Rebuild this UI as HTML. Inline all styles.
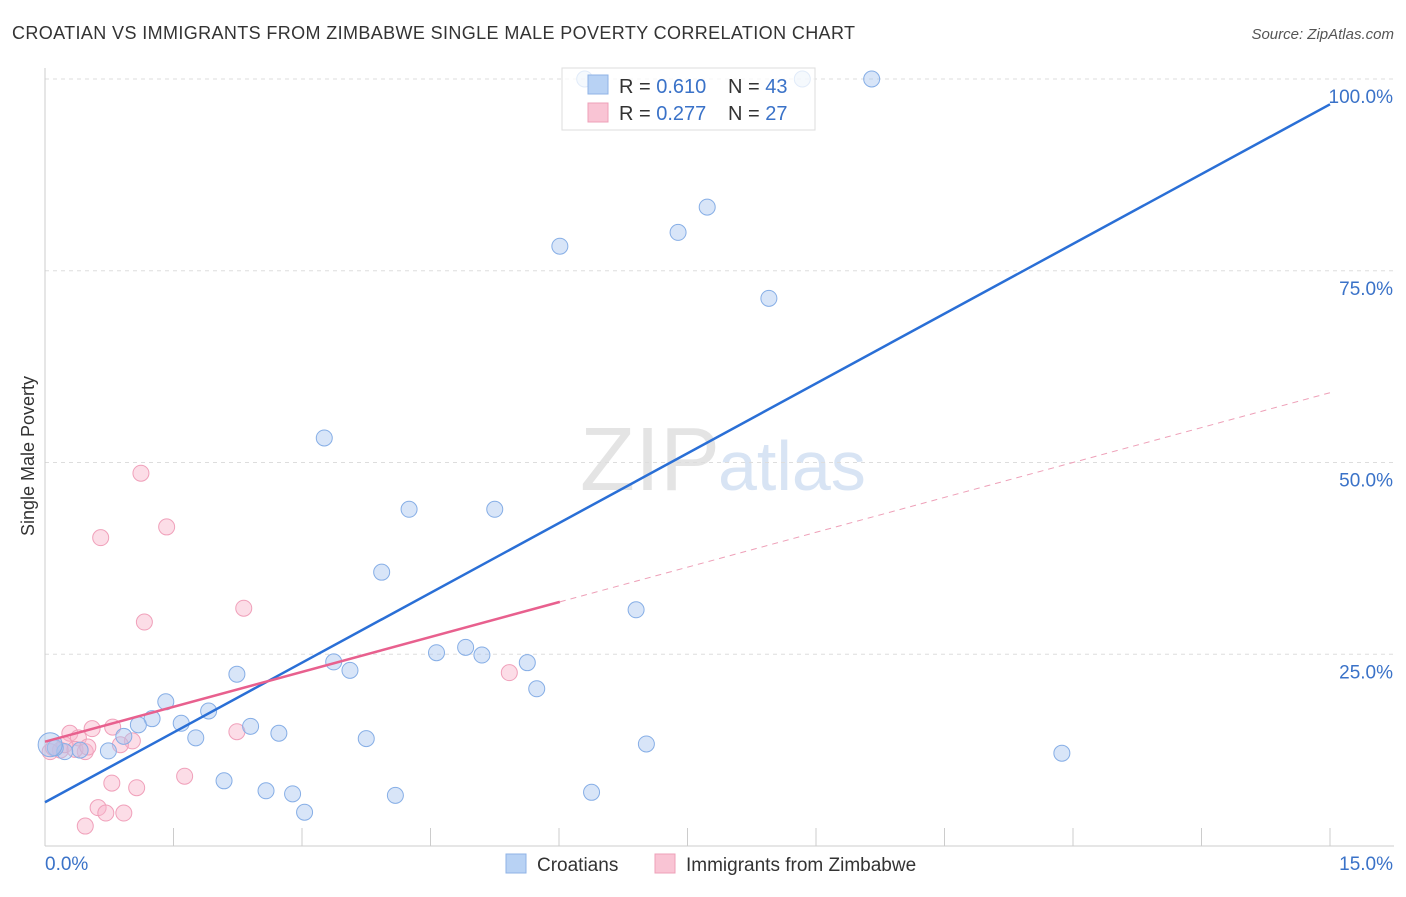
<!DOCTYPE html>
<html><head><meta charset="utf-8"><style>
body{margin:0;background:#fff;font-family:"Liberation Sans",sans-serif;}
svg text{font-family:"Liberation Sans",sans-serif;}
</style></head><body>
<svg id="chart" width="1406" height="892" xmlns="http://www.w3.org/2000/svg">
<text x="12" y="39" font-size="18" fill="#333" textLength="843">CROATIAN VS IMMIGRANTS FROM ZIMBABWE SINGLE MALE POVERTY CORRELATION CHART</text>
<text x="1394" y="39" font-size="15" fill="#555" font-style="italic" text-anchor="end">Source: ZipAtlas.com</text>
<text x="720" y="490" font-size="90" fill="#e4e4e4" text-anchor="end" font-family="Liberation Serif">ZIP</text>
<text x="718" y="490" font-size="70" fill="#d8e4f4">atlas</text>
<text transform="translate(34,456) rotate(-90)" font-size="18" fill="#333" text-anchor="middle">Single Male Poverty</text>
<g id="grid"></g><g id="axes"></g><g id="marks"></g>
<g>
<rect x="562" y="68" width="253" height="62" fill="rgba(255,255,255,0.75)" stroke="#ddd"/>
<rect x="588" y="75" width="20" height="19" fill="#b8d2f4" stroke="#8fb3e6"/>
<rect x="588" y="103" width="20" height="19" fill="#f9c4d4" stroke="#eea0b8"/>
<text x="619" y="93" font-size="20" fill="#333">R = <tspan fill="#3a72c8">0.610</tspan></text>
<text x="728" y="93" font-size="20" fill="#333">N = <tspan fill="#3a72c8">43</tspan></text>
<text x="619" y="120" font-size="20" fill="#333">R = <tspan fill="#3a72c8">0.277</tspan></text>
<text x="728" y="120" font-size="20" fill="#333">N = <tspan fill="#3a72c8">27</tspan></text>
</g>
<g>
<rect x="506" y="854" width="20" height="19" fill="#b8d2f4" stroke="#8fb3e6"/>
<text x="537" y="871" font-size="19" fill="#333">Croatians</text>
<rect x="655" y="854" width="20" height="19" fill="#f9c4d4" stroke="#eea0b8"/>
<text x="686" y="871" font-size="19" fill="#333">Immigrants from Zimbabwe</text>
</g>
</svg>
<script>
const yTicks=[25,50,75,100];
const yTickLabels=["25.0%","50.0%","75.0%","100.0%"];
const xTickCount=[0,1.5,3,4.5,6,7.5,9,10.5,12,13.5,15];
const blueX=[9.65,8.84,6.3,7.73,7.39,6.01,8.45,3.26,4.25,5.25,3.93,6.9,4.57,4.91,5.1,5.63,5.74,3.37,3.56,2.24,1.41,1.25,1.09,1.59,1.91,2.4,1.76,2.73,3.75,7.02,11.87,0.92,0.74,0.41,0.23,0.12,2.09,2.58,2.89,3.03,4.09,6.38,0.06];
const blueY=[100,100,100,83.3,80,78.2,71.4,53.2,43.9,43.9,35.7,30.8,25.2,25.9,24.9,23.9,20.5,24,22.9,22.4,18.8,16.6,15.8,16,17.6,15.6,14.1,14.7,14,13.3,12.1,14.3,12.4,12.5,12.3,12.8,8.5,7.2,6.8,4.4,6.6,7,13.2];
const pinkX=[1.12,1.42,0.65,2.32,1.16,5.42,2.24,0.79,0.55,0.29,0.39,1.02,0.88,0.47,0.18,0.06,1.63,0.78,1.07,0.62,0.71,0.92,0.47,0.23,0.1,0.35,0.5];
const pinkY=[48.6,41.6,40.2,31,29.2,22.6,14.9,15.5,15.3,14.7,14.1,13.7,13.2,12.3,12.5,12.3,9.1,8.2,7.6,5,4.3,4.3,2.6,13.2,12.8,12.6,12.9];
const blueTrend=[5.7,96.7];
const pinkTrend=[13.6,59.1];
const pinkSolidEnd=6.01;
const X=v=>45+v*(1330-45)/15, Y=v=>846-v*(846-79)/100;
const NS="http://www.w3.org/2000/svg";
function mk(parent,tag,attrs){const e=document.createElementNS(NS,tag);for(const k in attrs)e.setAttribute(k,attrs[k]);document.getElementById(parent).appendChild(e);return e;}
yTicks.forEach((t,i)=>{
 const l=mk('grid','line',{x1:45,x2:1394,y1:Y(t),y2:Y(t),stroke:'#ddd','stroke-dasharray':'4,4'});
 
 
 const tx=mk('axes','text',{x:1393,y:Y(t)+24,'font-size':19,fill:'#3a72c8','text-anchor':'end'});
 tx.textContent=yTickLabels[i];
 
 
});
let a=mk('axes','line',{x1:45,x2:45,y1:68,y2:846,stroke:'#ccc'});


a=mk('axes','line',{x1:45,x2:1394,y1:846,y2:846,stroke:'#ccc'});


xTickCount.slice(1).forEach(t=>{
 const l=mk('axes','line',{x1:X(t),x2:X(t),y1:828,y2:846,stroke:'#ccc'});
 
 
});
let t=mk('axes','text',{x:45,y:870,'font-size':19,fill:'#3a72c8'});t.textContent='0.0%';


t=mk('axes','text',{x:1393,y:870,'font-size':19,fill:'#3a72c8','text-anchor':'end'});t.textContent='15.0%';


pinkX.forEach((x,i)=>{
 const c=mk('marks','circle',{cx:X(x),cy:Y(pinkY[i]),r:8,fill:'rgba(249,180,202,0.45)',stroke:'#f0a0ba','stroke-width':1});
 
 
});
blueX.forEach((x,i)=>{
 const c=mk('marks','circle',{cx:X(x),cy:Y(blueY[i]),r:i==blueX.length-1?12:8,fill:'rgba(168,198,240,0.45)',stroke:'#86aee6','stroke-width':1});
 
 
});
let ln=mk('marks','line',{x1:X(0),y1:Y(blueTrend[0]),x2:X(15),y2:Y(blueTrend[1]),stroke:'#2a6fd6','stroke-width':2.5});


const pv=x=>pinkTrend[0]+(pinkTrend[1]-pinkTrend[0])*x/15;
ln=mk('marks','line',{x1:X(0),y1:Y(pv(0)),x2:X(pinkSolidEnd),y2:Y(pv(pinkSolidEnd)),stroke:'#e8608e','stroke-width':2.5});


ln=mk('marks','line',{x1:X(pinkSolidEnd),y1:Y(pv(pinkSolidEnd)),x2:X(15),y2:Y(pv(15)),stroke:'#eea0b8','stroke-width':1,'stroke-dasharray':'6,5'});


</script>
</body></html>
